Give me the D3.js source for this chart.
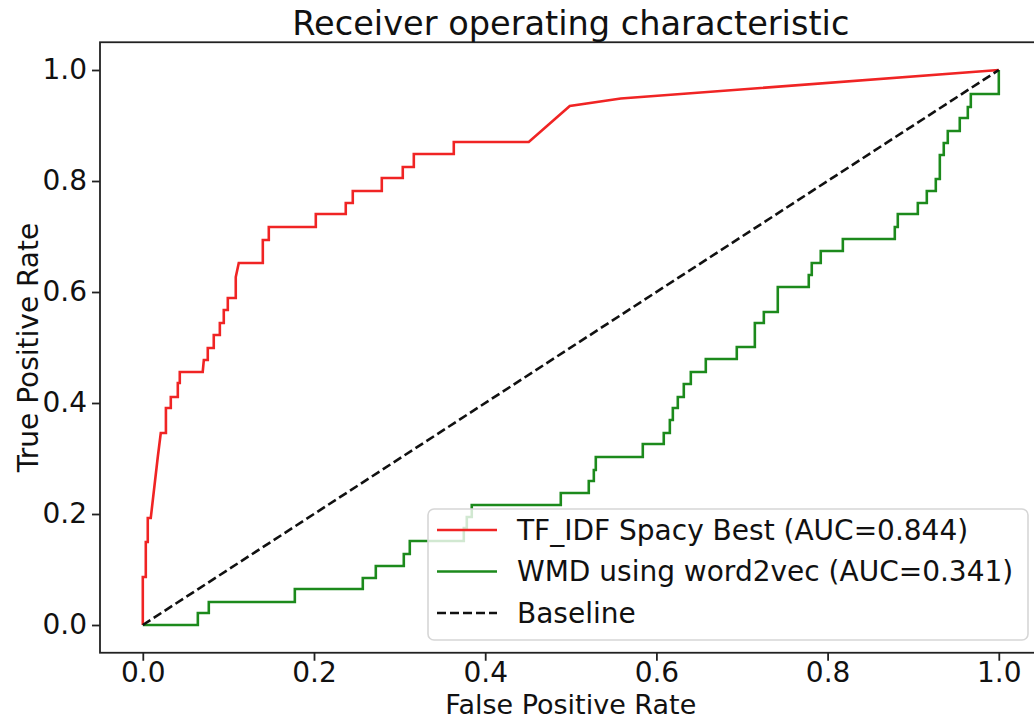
<!DOCTYPE html>
<html>
<head>
<meta charset="utf-8">
<script src="https://cdn.jsdelivr.net/npm/d3@7"></script>
<style>
  html, body { margin: 0; padding: 0; background: #fff; }
  text { font-family: "DejaVu Sans", sans-serif; fill: #111; }
</style>
</head>
<body>
<svg id="chart" width="1034" height="721"></svg>
<script>
// ROC curve points (false positive rate, true positive rate)
const tfidfFpr = [0, 0, 0.0035, 0.0035, 0.0058, 0.0058, 0.0093, 0.0175, 0.021, 0.027, 0.027, 0.0327, 0.0327,
  0.0409, 0.0409, 0.0432, 0.0432, 0.070, 0.0713, 0.0759, 0.0759, 0.0829, 0.0829, 0.090, 0.090, 0.0946, 0.0946,
  0.0993, 0.0993, 0.1086, 0.1086, 0.1121, 0.1402, 0.1402, 0.1472, 0.1472, 0.2021, 0.2021, 0.2371, 0.2371,
  0.2453, 0.2453, 0.2792, 0.2792, 0.3037, 0.3037, 0.3166, 0.3166, 0.3633, 0.3633, 0.4509, 0.4988, 0.5584, 1.0];
const tfidfTpr = [0, 0.0865, 0.0865, 0.1495, 0.1495, 0.1928, 0.1928, 0.3027, 0.3459, 0.3459, 0.391, 0.391, 0.4108,
  0.4108, 0.436, 0.436, 0.4559, 0.4559, 0.4775, 0.4775, 0.4991, 0.4991, 0.5225, 0.5225, 0.5441, 0.5441, 0.5676,
  0.5676, 0.5892, 0.5892, 0.627, 0.6523, 0.6523, 0.6937, 0.6937, 0.7171, 0.7171, 0.7405, 0.7405, 0.7604,
  0.7604, 0.782, 0.782, 0.8054, 0.8054, 0.8252, 0.8252, 0.8486, 0.8486, 0.8703, 0.8703, 0.9351, 0.9486, 1.0];

const wmdFpr = [0, 0.0643, 0.0643, 0.0771, 0.0771, 0.1776, 0.1776, 0.257, 0.257, 0.2722, 0.2722, 0.3049, 0.3049,
  0.3119, 0.3119, 0.375, 0.375, 0.3785, 0.3785, 0.3843, 0.3843, 0.4883, 0.4883, 0.521, 0.521, 0.5269, 0.5269,
  0.5292, 0.5292, 0.5841, 0.5841, 0.6086, 0.6086, 0.6157, 0.6157, 0.6192, 0.6192, 0.625, 0.625, 0.632, 0.632,
  0.6402, 0.6402, 0.6577, 0.6577, 0.6939, 0.6939, 0.715, 0.715, 0.7255, 0.7255, 0.7418, 0.7418, 0.778, 0.778,
  0.7815, 0.7815, 0.792, 0.792, 0.8178, 0.8178, 0.8785, 0.8785, 0.882, 0.882, 0.9054, 0.9054, 0.9159, 0.9159,
  0.9264, 0.9264, 0.9311, 0.9311, 0.9357, 0.9357, 0.9404, 0.9404, 0.9544, 0.9544, 0.9638, 0.9638, 0.9673,
  0.9673, 1.0, 1.0];
const wmdTpr = [0, 0, 0.0216, 0.0216, 0.0414, 0.0414, 0.0649, 0.0649, 0.0847, 0.0847, 0.1063, 0.1063, 0.1279,
  0.1279, 0.1514, 0.1514, 0.1748, 0.1748, 0.1946, 0.1946, 0.2162, 0.2162, 0.2378, 0.2378, 0.2595, 0.2595,
  0.2793, 0.2793, 0.3027, 0.3027, 0.3261, 0.3261, 0.3459, 0.3459, 0.3694, 0.3694, 0.391, 0.391, 0.4108,
  0.4108, 0.4342, 0.4342, 0.4559, 0.4559, 0.4793, 0.4793, 0.5009, 0.5009, 0.5441, 0.5441, 0.564, 0.564,
  0.609, 0.609, 0.6306, 0.6306, 0.6523, 0.6523, 0.6739, 0.6739, 0.6955, 0.6955, 0.7171, 0.7171, 0.7405,
  0.7405, 0.7604, 0.7604, 0.782, 0.782, 0.8036, 0.8036, 0.8468, 0.8468, 0.8685, 0.8685, 0.8901, 0.8901,
  0.9135, 0.9135, 0.9333, 0.9333, 0.9568, 0.9568, 1.0];

const baselineFpr = [0, 1];
const baselineTpr = [0, 1];

const seriesNames = ["TF_IDF Spacy Best (AUC=0.844)", "WMD using word2vec (AUC=0.341)", "Baseline"];
const xTicks = [0.0, 0.2, 0.4, 0.6, 0.8, 1.0];
const yTicks = [0.0, 0.2, 0.4, 0.6, 0.8, 1.0];

const svg = d3.select("#chart");
const plotL = 100, plotR = 1041.6, plotT = 42.25, plotB = 652.75;
const FS = 28;

const x = d3.scaleLinear().domain([-0.05, 1.05]).range([plotL, plotR]);
const y = d3.scaleLinear().domain([-0.05, 1.05]).range([plotB, plotT]);

svg.append("defs").append("clipPath").attr("id", "plotclip")
  .append("rect").attr("x", plotL).attr("y", plotT)
  .attr("width", plotR - plotL).attr("height", plotB - plotT);

const plot = svg.append("g").attr("clip-path", "url(#plotclip)");

const line = d3.line().x(d => x(d[0])).y(d => y(d[1]));
const zip = (a, b) => a.map((v, i) => [v, b[i]]);

const series = [
  { name: seriesNames[0], pts: zip(tfidfFpr, tfidfTpr), color: "#f02424", dash: null, width: 2.6 },
  { name: seriesNames[1], pts: zip(wmdFpr, wmdTpr), color: "#1c8a1c", dash: null, width: 2.6 },
  { name: seriesNames[2], pts: zip(baselineFpr, baselineTpr), color: "#111", dash: "9,4", width: 2.6 }
];

series.forEach(s => {
  plot.append("path")
    .attr("d", line(s.pts))
    .attr("fill", "none")
    .attr("stroke", s.color)
    .attr("stroke-width", s.width)
    .attr("stroke-linejoin", "miter")
    .attr("stroke-dasharray", s.dash);
});

// axes frame
svg.append("rect")
  .attr("x", plotL).attr("y", plotT)
  .attr("width", plotR - plotL).attr("height", plotB - plotT)
  .attr("fill", "none").attr("stroke", "#222").attr("stroke-width", 1.8);

// x axis
const xAxis = d3.axisBottom(x).tickValues(xTicks).tickFormat(d3.format(".1f"))
  .tickSize(8).tickPadding(1);
const gx = svg.append("g").attr("transform", `translate(0,${plotB})`).call(xAxis);
gx.select(".domain").remove();
gx.selectAll(".tick line").attr("stroke", "#222").attr("stroke-width", 1.8);
gx.selectAll(".tick text").attr("font-size", FS).attr("font-family", "DejaVu Sans").attr("fill", "#111");

// y axis
const yAxis = d3.axisLeft(y).tickValues(yTicks).tickFormat(d3.format(".1f"))
  .tickSize(8).tickPadding(5);
const gy = svg.append("g").attr("transform", `translate(${plotL},0)`).call(yAxis);
gy.select(".domain").remove();
gy.selectAll(".tick line").attr("stroke", "#222").attr("stroke-width", 1.8);
gy.selectAll(".tick text").attr("font-size", FS).attr("font-family", "DejaVu Sans").attr("fill", "#111");

// title and axis labels
svg.append("text")
  .attr("x", (plotL + plotR) / 2).attr("y", 35)
  .attr("text-anchor", "middle").attr("font-size", 33.6)
  .text("Receiver operating characteristic");

svg.append("text")
  .attr("x", (plotL + plotR) / 2).attr("y", 714)
  .attr("text-anchor", "middle").attr("font-size", 27)
  .text("False Positive Rate");

svg.append("text")
  .attr("transform", `translate(38,${(plotT + plotB) / 2}) rotate(-90)`)
  .attr("text-anchor", "middle").attr("font-size", FS)
  .text("True Positive Rate");

// legend
const legend = svg.append("g");
legend.append("rect")
  .attr("x", 428).attr("y", 509).attr("width", 600).attr("height", 131)
  .attr("rx", 6).attr("ry", 6)
  .attr("fill", "rgba(255,255,255,0.8)")
  .attr("stroke", "#d6d6d6").attr("stroke-width", 1.6);

series.forEach((s, i) => {
  const ly = 530 + i * 41.5;
  legend.append("line")
    .attr("x1", 437).attr("x2", 497).attr("y1", ly).attr("y2", ly)
    .attr("stroke", s.color).attr("stroke-width", s.width)
    .attr("stroke-dasharray", s.dash);
  legend.append("text")
    .attr("x", 517).attr("y", ly).attr("dy", "0.35em")
    .attr("font-size", FS)
    .text(s.name);
});
</script>
</body>
</html>
